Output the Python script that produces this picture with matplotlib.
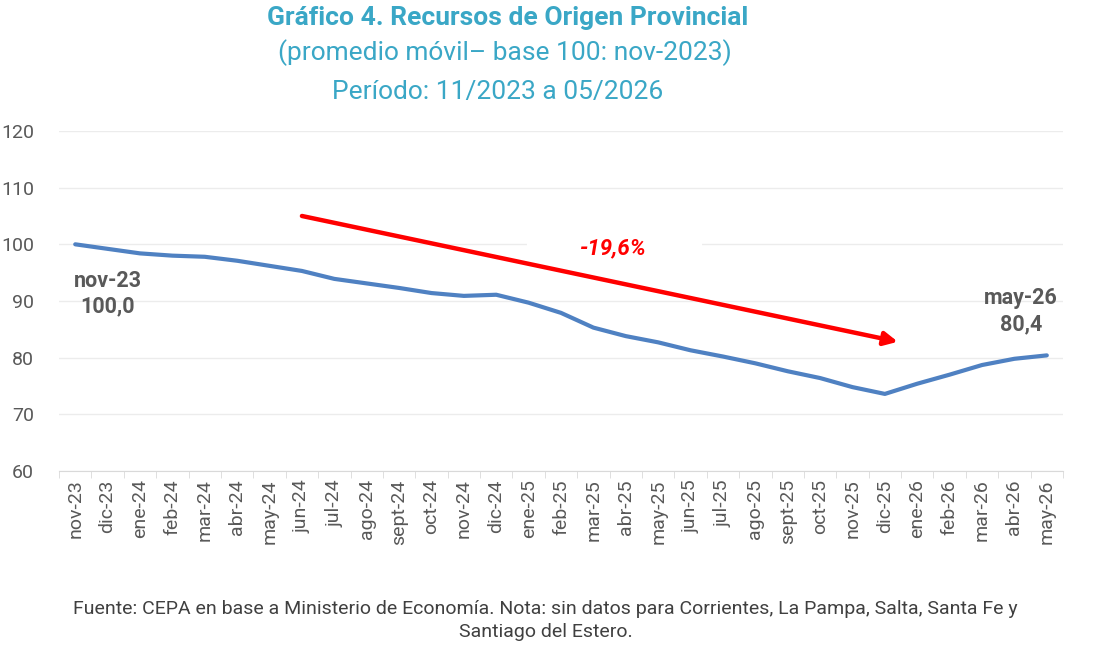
import matplotlib.pyplot as plt

plt.rcParams['font.family'] = ['Roboto', 'DejaVu Sans']

# meses (nov-23 a may-26)
meses = ['nov-23', 'dic-23', 'ene-24', 'feb-24', 'mar-24', 'abr-24', 'may-24',
         'jun-24', 'jul-24', 'ago-24', 'sept-24', 'oct-24', 'nov-24', 'dic-24',
         'ene-25', 'feb-25', 'mar-25', 'abr-25', 'may-25', 'jun-25', 'jul-25',
         'ago-25', 'sept-25', 'oct-25', 'nov-25', 'dic-25', 'ene-26', 'feb-26',
         'mar-26', 'abr-26', 'may-26']
indice = [100.0, 99.2, 98.4, 98.0, 97.8, 97.1, 96.2, 95.3, 93.9, 93.1, 92.3,
          91.4, 90.9, 91.1, 89.7, 87.9, 85.3, 83.8, 82.7, 81.3, 80.2, 79.0,
          77.6, 76.4, 74.8, 73.6, 75.4, 77.0, 78.7, 79.8, 80.4]
yticks = [60, 70, 80, 90, 100, 110, 120]
variacion = '-19,6%'

teal = '#3aa7c6'
gris = '#595959'

fig = plt.figure(figsize=(11.16, 6.5), dpi=100)
ax = fig.add_axes([0.0529, 0.2754, 0.8996, 0.5231])

x = list(range(len(meses)))
ax.plot(x, indice, color='#4f81c2', lw=3, solid_capstyle='round', zorder=3)

ax.set_xlim(-0.5, len(meses) - 0.5)
ax.set_ylim(60, 120)
ax.set_yticks(yticks)
ax.set_yticklabels([str(v) for v in yticks], fontsize=14, color=gris)
ax.tick_params(axis='y', length=0, pad=18)
ax.yaxis.grid(True, color='#ececec', lw=1)
ax.set_axisbelow(True)

ax.set_xticks(x)
ax.set_xticklabels(meses, rotation=90, fontsize=14, color=gris)
ax.set_xticks([i - 0.5 for i in range(len(meses) + 1)], minor=True)
ax.tick_params(axis='x', which='major', length=0, pad=6)
ax.tick_params(axis='x', which='minor', length=5, color='#d9d9d9')

for s in ['top', 'right', 'left']:
    ax.spines[s].set_visible(False)
ax.spines['bottom'].set_color('#d9d9d9')

# flecha de variacion
ax.annotate('', xy=(25.4, 82.8), xytext=(7.0, 105.0),
            arrowprops=dict(arrowstyle='-|>', color='#ff0000', lw=3.2,
                            mutation_scale=20, shrinkA=0, shrinkB=0))
# tapar grilla detras del rotulo
ax.plot([14.0, 19.3], [100, 100], color='white', lw=3, zorder=1.5)
ax.text(16.6, 99.35, variacion, color='#ff0000', fontsize=16, fontweight='bold',
        style='italic', ha='center', va='center', zorder=5)

ax.text(1.0, 91.3, 'nov-23\n100,0', color=gris, fontsize=15.5, fontweight='bold',
        ha='center', va='center', linespacing=1.2)
ax.text(29.2, 88.2, 'may-26\n80,4', color=gris, fontsize=15.5, fontweight='bold',
        ha='center', va='center', linespacing=1.2)

fig.text(0.455, 0.972, 'Gráfico 4. Recursos de Origen Provincial', color=teal,
         fontsize=19, fontweight='bold', ha='center', va='center')
fig.text(0.452, 0.919, '(promedio móvil– base 100: nov-2023)', color=teal,
         fontsize=19, ha='center', va='center')
fig.text(0.446, 0.859, 'Período: 11/2023 a 05/2026', color=teal,
         fontsize=19, ha='center', va='center')

fig.text(0.489, 0.045, 'Fuente: CEPA en base a Ministerio de Economía. Nota: sin datos para Corrientes, La Pampa, Salta, Santa Fe y\nSantiago del Estero.',
         color='#404040', fontsize=14, ha='center', va='center', linespacing=1.35)

fig.savefig('out.png', dpi=100)
